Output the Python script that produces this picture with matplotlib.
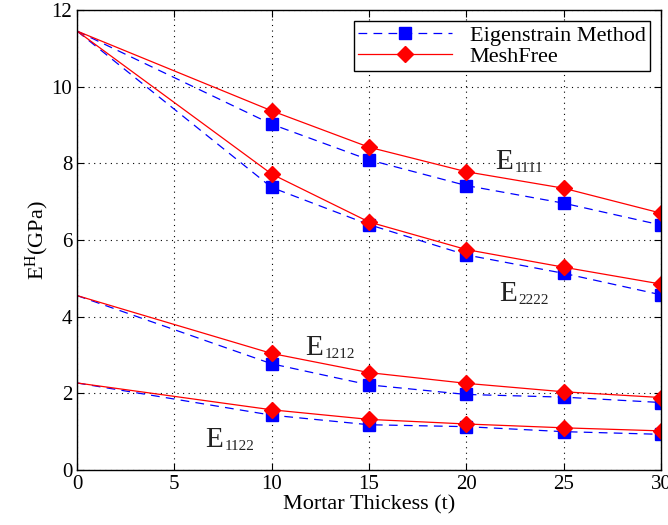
import numpy as np
import matplotlib.pyplot as plt

plt.rcParams['font.family'] = ['Liberation Serif', 'DejaVu Serif']
plt.rcParams['mathtext.fontset'] = 'custom'
plt.rcParams['mathtext.rm'] = 'Liberation Serif'
plt.rcParams['mathtext.it'] = 'Liberation Serif:italic'

# thickness values (first point t=0 has no marker)
t = [0, 10, 15, 20, 25, 30]

# Eigenstrain method
eig_1111 = [11.45, 9.02, 8.09, 7.42, 6.96, 6.39]
eig_2222 = [11.45, 7.37, 6.40, 5.61, 5.13, 4.57]
eig_1212 = [4.55, 2.77, 2.22, 1.97, 1.90, 1.76]
eig_1122 = [2.27, 1.43, 1.18, 1.13, 1.00, 0.93]

# MeshFree
mf_1111 = [11.45, 9.37, 8.42, 7.78, 7.35, 6.70]
mf_2222 = [11.45, 7.72, 6.47, 5.75, 5.29, 4.85]
mf_1212 = [4.55, 3.04, 2.54, 2.26, 2.04, 1.89]
mf_1122 = [2.27, 1.57, 1.32, 1.20, 1.10, 1.02]

# curve labels: subscript, position of the "E"
labels = ["1111", "2222", "1212", "1122"]
label_x = [21.5, 21.7, 11.7, 6.6]
label_y = [7.85, 4.4, 3.0, 0.6]

fig = plt.figure(figsize=(6.68, 5.25), dpi=100)
ax = fig.add_axes([0.1153, 0.1048, 0.8742, 0.8762])

mk = slice(1, None)
for i, (e, m) in enumerate(zip([eig_1111, eig_2222, eig_1212, eig_1122],
                               [mf_1111, mf_2222, mf_1212, mf_1122])):
    ax.plot(t, e, color="blue", linestyle=(0, (7, 5)), linewidth=0.9,
            marker="s", markersize=8, markevery=mk,
            label="Eigenstrain Method" if i == 0 else None)
    ax.plot(t, m, color="red", linestyle="-", linewidth=0.9,
            marker="D", markersize=8, markevery=mk,
            label="MeshFree" if i == 0 else None)

for sub, lx, ly in zip(labels, label_x, label_y):
    ax.text(lx, ly, "E", fontsize=21, color="#222222")
    ax.annotate(sub, (lx, ly), xytext=(14, -2), textcoords="offset points",
                fontsize=11, color="#222222")

ax.set_xlim(0, 30)
ax.set_ylim(0, 12)
ax.set_xticks(np.arange(0, 31, 5))
ax.set_yticks(np.arange(0, 13, 2))
ax.grid(True, color="black", linestyle=(0, (1, 4)), linewidth=0.8)
ax.tick_params(direction="in", top=True, right=True, labelsize=15, length=5)
for s in ax.spines.values():
    s.set_linewidth(1.0)

ax.set_xlabel("Mortar Thickess (t)", fontsize=16, labelpad=1)
ax.set_ylabel("E$^{\\mathrm{H}}$(GPa)", fontsize=16, labelpad=0)

leg = ax.legend(loc="upper right", prop={"family": "Liberation Serif", "size": 16},
                fancybox=False, framealpha=1, edgecolor="black",
                handlelength=4.2, borderaxespad=0.5,
                labelspacing=0.0, borderpad=0.2)
leg.get_frame().set_linewidth(1.0)

fig.savefig("out.png", dpi=100)
